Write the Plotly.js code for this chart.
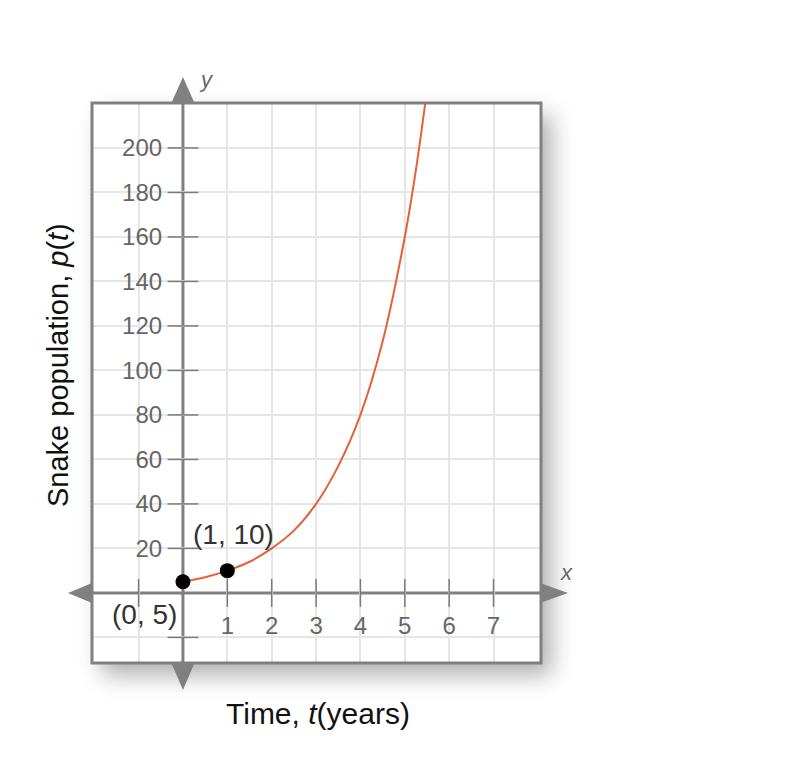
<!DOCTYPE html>
<html>
<head>
<meta charset="utf-8">
<script src="https://cdn.plot.ly/plotly-3.0.1.min.js"></script>
<style>
  html, body { margin: 0; padding: 0; background: #ffffff; }
  #wrap { position: relative; width: 800px; height: 765px; }
  #shadow { position: absolute; left: 92px; top: 103px; width: 449px; height: 560px;
            background: #ffffff; box-shadow: 10px 12px 22px rgba(0,0,0,0.32); }
  #chart { position: absolute; left: 0; top: 0; width: 800px; height: 765px; }
</style>
</head>
<body>
<div id="wrap">
  <div id="shadow"></div>
  <div id="chart"></div>
</div>
<script>
// ---- data ----
const curveT = [0, 0.5, 1, 1.5, 2, 2.5, 3, 3.5, 4, 4.5, 5, 5.25, 5.5];
const curveP = [5, 7, 10, 14, 20, 28, 40, 57, 80, 113, 160, 190, 226];
const pointT = [0, 1];
const pointP = [5, 10];
const pointLabels = ['(0, 5)', '(1, 10)'];
const xTickVals = [-1, 1, 2, 3, 4, 5, 6, 7];
const xTickText = ['', '1', '2', '3', '4', '5', '6', '7'];
const yTickVals = [-20, 20, 40, 60, 80, 100, 120, 140, 160, 180, 200];
const yTickText = ['', '20', '40', '60', '80', '100', '120', '140', '160', '180', '200'];
const xTitle = 'Time, <i>t</i>(years)';
const yTitle = 'Snake population, <i>p</i>(<i>t</i>)';

// ---- layout geometry ----
const W = 800, H = 765;
const M = {l: 92, r: 259, t: 103, b: 102};
const xRange = [-2.05, 8.07];
const yRange = [-31.5, 220.2];
const plotW = W - M.l - M.r, plotH = H - M.t - M.b;
const px2paperX = px => (px - M.l) / plotW;
const px2paperY = py => (H - M.b - py) / plotH;
const xZeroPaper = (0 - xRange[0]) / (xRange[1] - xRange[0]);
const yZeroPaper = (0 - yRange[0]) / (yRange[1] - yRange[0]);
const x0px = M.l + xZeroPaper * plotW;
const y0px = H - M.b - yZeroPaper * plotH;

const axisGray = '#808080';
const tickGray = '#7a7a7a';
const font = 'Liberation Sans, Arial, sans-serif';

function tri(p1, p2, p3) {
  const f = p => px2paperX(p[0]) + ',' + px2paperY(p[1]);
  return {type: 'path', xref: 'paper', yref: 'paper', layer: 'above',
          path: 'M' + f(p1) + ' L' + f(p2) + ' L' + f(p3) + ' Z',
          fillcolor: axisGray, line: {width: 0}};
}

const traces = [
  { // curve
    x: curveT, y: curveP, mode: 'lines', type: 'scatter',
    line: {color: '#e5603a', width: 2, shape: 'spline'}, hoverinfo: 'skip'
  },
  { // x crossing ticks
    x: xTickVals, y: xTickVals.map(() => 0), mode: 'markers', type: 'scatter',
    marker: {symbol: 'line-ns-open', size: 20, color: tickGray, line: {width: 1.5, color: tickGray}},
    hoverinfo: 'skip'
  },
  { // y crossing ticks
    x: yTickVals.map(() => 0), y: yTickVals, mode: 'markers', type: 'scatter',
    marker: {symbol: 'line-ew-open', size: 22, color: tickGray, line: {width: 1.5, color: tickGray}},
    hoverinfo: 'skip'
  },
  { // points
    x: pointT, y: pointP, mode: 'markers', type: 'scatter', cliponaxis: false,
    marker: {color: '#000000', size: 15}, hoverinfo: 'skip'
  }
];

const shapes = [
  {type: 'line', xref: 'x', yref: 'y', layer: 'below', x0: xRange[0], x1: xRange[1], y0: 0, y1: 0,
   line: {color: axisGray, width: 3}},
  {type: 'line', xref: 'x', yref: 'y', layer: 'below', x0: 0, x1: 0, y0: yRange[0], y1: yRange[1],
   line: {color: axisGray, width: 3}},
  {type: 'rect', xref: 'paper', yref: 'paper', layer: 'above', x0: 0, x1: 1, y0: 0, y1: 1,
   line: {color: axisGray, width: 3}},
  tri([68, y0px], [M.l, y0px - 10], [M.l, y0px + 10]),
  tri([W - M.r + 27, y0px], [W - M.r - 1, y0px - 10], [W - M.r - 1, y0px + 10]),
  tri([x0px, 77], [x0px - 12, M.t + 1], [x0px + 12, M.t + 1]),
  tri([x0px, H - M.b + 27], [x0px - 12, H - M.b - 1], [x0px + 12, H - M.b - 1])
];

const annotations = [
  {x: pointT[1], y: pointP[1], xref: 'x', yref: 'y', text: pointLabels[1], showarrow: false,
   xshift: 6, yshift: 36, font: {family: font, size: 28, color: '#333333'}},
  {x: pointT[0], y: pointP[0], xref: 'x', yref: 'y', text: pointLabels[0], showarrow: false,
   xshift: -38, yshift: -33, font: {family: font, size: 28, color: '#333333'}},
  {x: px2paperX(318), y: px2paperY(713), xref: 'paper', yref: 'paper', text: xTitle, showarrow: false,
   xanchor: 'center', yanchor: 'middle', font: {family: font, size: 30, color: '#111111'}},
  {x: px2paperX(58), y: px2paperY(365), xref: 'paper', yref: 'paper', text: yTitle, showarrow: false,
   textangle: -90, xanchor: 'center', yanchor: 'middle', font: {family: font, size: 29, color: '#111111'}},
  {x: px2paperX(206), y: px2paperY(80), xref: 'paper', yref: 'paper', text: '<i>y</i>', showarrow: false,
   xanchor: 'center', yanchor: 'middle', font: {family: font, size: 22, color: '#666666'}},
  {x: px2paperX(566), y: px2paperY(572), xref: 'paper', yref: 'paper', text: '<i>x</i>', showarrow: false,
   xanchor: 'center', yanchor: 'middle', font: {family: font, size: 22, color: '#666666'}}
];

const layout = {
  width: W, height: H,
  margin: M,
  paper_bgcolor: 'rgba(0,0,0,0)', plot_bgcolor: 'rgba(0,0,0,0)',
  showlegend: false,
  xaxis: {
    range: xRange, anchor: 'free', position: yZeroPaper,
    tickvals: xTickVals, ticktext: xTickText,
    showgrid: true, gridcolor: '#e6e6e6', gridwidth: 2,
    zeroline: false, showline: false,
    ticks: 'outside', ticklen: 10, tickcolor: 'rgba(0,0,0,0)', ticklabelstandoff: 1,
    tickfont: {family: font, size: 24, color: '#666666'}, fixedrange: true
  },
  yaxis: {
    range: yRange, anchor: 'free', position: xZeroPaper,
    tickvals: yTickVals, ticktext: yTickText,
    showgrid: true, gridcolor: '#e6e6e6', gridwidth: 2,
    zeroline: false, showline: false,
    ticks: 'outside', ticklen: 10, tickcolor: 'rgba(0,0,0,0)', ticklabelstandoff: 6,
    tickfont: {family: font, size: 24, color: '#666666'}, fixedrange: true
  },
  shapes: shapes,
  annotations: annotations
};

Plotly.newPlot('chart', traces, layout, {displayModeBar: false, staticPlot: true});
</script>
</body>
</html>
